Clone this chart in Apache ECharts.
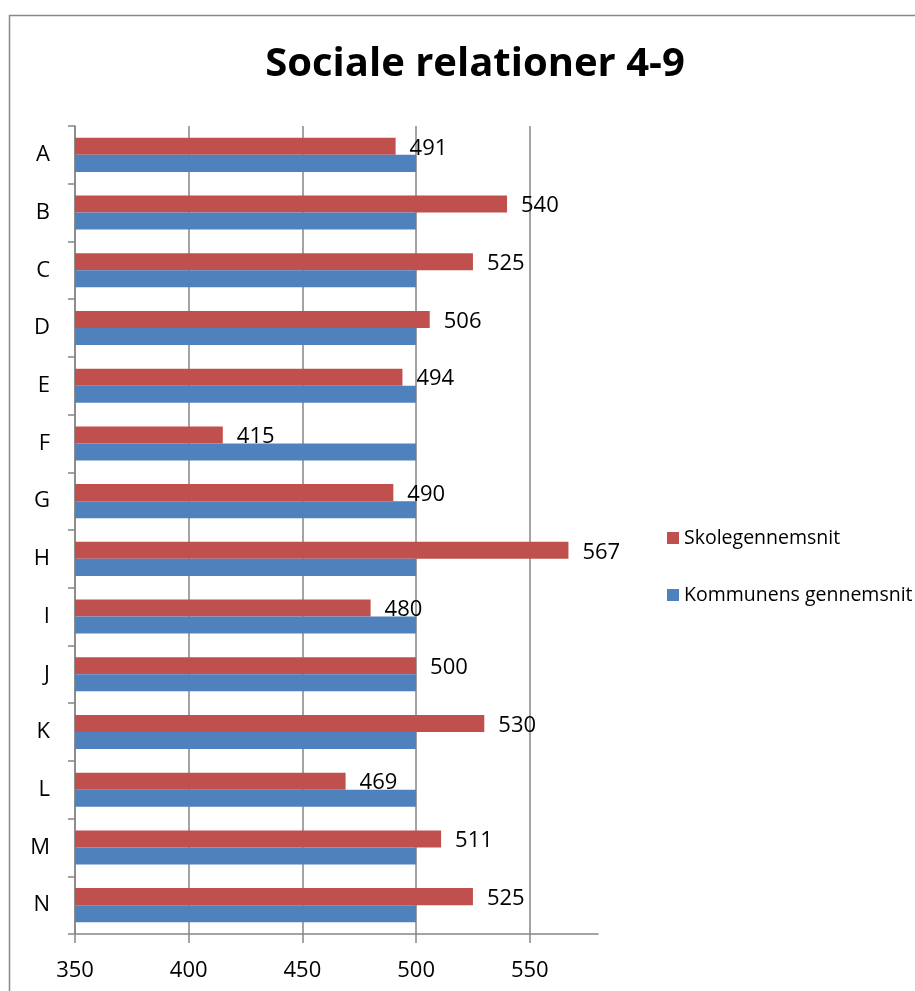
<!DOCTYPE html>
<html>
<head>
<meta charset="utf-8">
<script src="https://cdn.jsdelivr.net/npm/echarts@6/dist/echarts.min.js"></script>
<style>
  html, body { margin: 0; padding: 0; background: #ffffff; }
  #chart { width: 915px; height: 991px; }
</style>
</head>
<body>
<div id="chart"></div>
<script>
// Categories A..N, top to bottom
const categories = ['A', 'B', 'C', 'D', 'E', 'F', 'G', 'H', 'I', 'J', 'K', 'L', 'M', 'N'];
// School average per category
const skolegennemsnit = [491, 540, 525, 506, 494, 415, 490, 567, 480, 500, 530, 469, 511, 525];
// Municipal average per category
const kommunensGennemsnit = [500, 500, 500, 500, 500, 500, 500, 500, 500, 500, 500, 500, 500, 500];
// Value axis tick labels
const xTicks = [350, 400, 450, 500, 550];

const FONT = '"Open Sans", "Liberation Sans", sans-serif';
const RED = '#C0504D';
const BLUE = '#4F81BD';
const GRID = '#868686';

const chart = echarts.init(document.getElementById('chart'), null, { renderer: 'canvas' });

chart.setOption({
  backgroundColor: '#ffffff',
  animation: false,
  title: {
    text: 'Sociale relationer 4-9',
    left: 470,
    top: 40,
    textAlign: 'center',
    textStyle: { fontFamily: FONT, fontSize: 40, fontWeight: 'bold', color: '#000' }
  },
  graphic: [{
    type: 'rect',
    left: 7, top: 13,
    shape: { width: 1000, height: 1000 },
    style: { fill: 'none', stroke: '#888888', lineWidth: 1.5 },
    silent: true
  }],
  legend: {
    orient: 'vertical',
    left: 662,
    top: 523,
    itemWidth: 12,
    itemHeight: 12,
    itemGap: 37,
    icon: 'rect',
    textStyle: { fontFamily: FONT, fontSize: 19.5, color: '#000', padding: [0, 0, 0, 0] },
    data: ['Skolegennemsnit', 'Kommunens gennemsnit']
  },
  grid: { left: 75, right: 317, top: 126, bottom: 57, containLabel: false },
  xAxis: {
    type: 'value',
    min: 350,
    max: 580,
    interval: 50,
    axisLine: { show: true, lineStyle: { color: GRID, width: 1.5 } },
    axisTick: { show: true, length: 9, customValues: xTicks, lineStyle: { color: GRID, width: 1.5 } },
    axisLabel: { customValues: xTicks, margin: 26, fontFamily: FONT, fontSize: 22, color: '#000' },
    splitLine: { show: true, lineStyle: { color: GRID, width: 1.5 } }
  },
  yAxis: {
    type: 'category',
    data: categories,
    inverse: true,
    axisLine: { show: true, lineStyle: { color: GRID, width: 1.5 } },
    axisTick: { show: true, length: 7, lineStyle: { color: GRID, width: 1.5 } },
    axisLabel: { margin: 25, fontFamily: FONT, fontSize: 22, color: '#000' }
  },
  series: [
    {
      name: 'Skolegennemsnit',
      type: 'bar',
      data: skolegennemsnit,
      itemStyle: { color: RED },
      barGap: '0%',
      barCategoryGap: '41%',
      label: {
        show: true,
        position: 'right',
        distance: 14,
        offset: [0, 2],
        fontFamily: FONT,
        fontSize: 22,
        color: '#000'
      }
    },
    {
      name: 'Kommunens gennemsnit',
      type: 'bar',
      data: kommunensGennemsnit,
      itemStyle: { color: BLUE },
      barGap: '0%',
      barCategoryGap: '41%'
    }
  ]
});
</script>
</body>
</html>
